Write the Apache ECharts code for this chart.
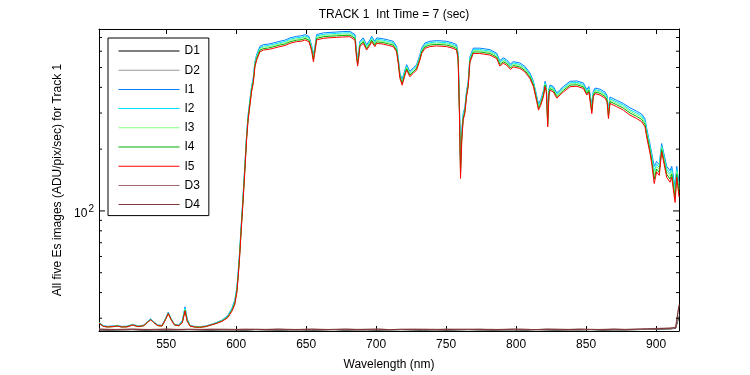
<!DOCTYPE html>
<html><head><meta charset="utf-8">
<script src="https://cdn.jsdelivr.net/npm/echarts@6/dist/echarts.min.js"></script>
<style>html,body{margin:0;padding:0;background:#fff}#c{width:750px;height:375px}</style>
</head><body><div id="c"></div>
<script>
// ---- data ----
const wavelengths = [502,505,508,512,515,518,522,526,530,534,537,539,541,544,547,549.5,551.5,553.5,556,559,561.5,563.5,565,567,570,574,578,582,586,590,594,597,599,600.5,601.5,602.5,603.5,604.5,605.5,606.5,607.5,608.5,610,611,612.2,613.4,614.6,617,619.4,623,626.5,631.3,635,638.4,643.2,647,649.1,652,654,655.2,656.5,657.5,662.3,667,671.8,676,681.3,684.9,686,686.8,687.6,688.4,690.8,693.2,695.6,696.8,699.1,700.4,705,709,712.2,714.6,715.8,717,718.6,720.6,721.8,724.1,726.5,728.9,731.3,732.5,734.9,738.4,743.2,750.4,755,757.5,758.6,759.5,760.3,761.2,762.2,763.4,764.6,765.8,767,769.4,774.1,781.3,786.1,788.4,790.8,793.2,796,797.9,802.7,806.3,809.9,812.4,814.8,816,817.6,819.5,820.7,821.6,822.6,823.5,824.3,826.6,829.1,831.4,833.8,838.6,843.4,848.1,850.5,852,854.1,855.2,856.4,860,863.6,865,866,867.1,871.9,876.6,881.4,886.2,889.8,892.1,893.3,895.7,896.9,898.7,900.4,902.3,904,905.2,907.6,910,911.2,913.6,914.8,916.4];
const I5 = [28.4,27.4,27.2,27.3,27.5,27.2,27.2,27.8,27.3,27.6,28.8,29.5,28.6,27.6,27.5,29.5,31.6,29.5,27.8,27.6,28.5,32.5,29.0,27.5,27.2,27.1,27.3,27.8,28.3,29.0,30.2,32.5,35,40,48,60,78,100,130,170,225,275,334,380,418,503,543,597,608,612,620,632,640,656,668,672,681,668,600,533,610,681,694,698,701,704,706,681,560,508,560,632,656,608,642,668,632,656,650,640,632,597,524,443,410,459,486,451,468,486,543,585,620,632,637,632,620,608,543,300,144,220,277,299,360,403,530,585,585,575,553,508,524,514,489,503,495,476,442,403,340,310,327,360,403,380,257,370,387,380,354,367,380,403,405,395,367,380,298,360,373,367,354,340,282,334,322,310,293,282,272,257,229,191,170,136,155,149,194,177,146,138,146,110,146,117];
const I4 = [28.5,27.4,27.2,27.3,27.5,27.2,27.3,27.8,27.3,27.6,28.8,29.5,28.6,27.6,27.5,29.6,31.7,29.6,27.8,27.6,28.6,32.8,29.2,27.5,27.2,27.1,27.3,27.8,28.4,29.1,30.4,32.8,35.4,40.6,48.8,61,79.3,102,132,173,229,280,340,386,425,512,552,607,618,622,631,643,651,667,679,683,693,679,610,545,620,693,706,710,713,716,718,693,572,520,570,643,667,618,653,679,643,667,661,651,643,607,533,451,417,467,494,459,476,494,552,595,631,643,648,643,631,618,554,310,152,226,282,304,366,410,539,595,595,585,562,517,533,523,497,512,503,484,450,410,346,316,333,366,410,387,264,377,394,387,360,373,387,410,412,402,373,387,306,366,380,374,361,347,289,341,329,317,300,289,279,264,236,197,176,143,160,154,199,182,151,143,151,115,151,122];
const I3 = [28.5,27.5,27.3,27.4,27.6,27.3,27.3,27.9,27.4,27.7,28.9,29.6,28.7,27.7,27.6,29.7,31.8,29.7,27.9,27.7,28.8,33.2,29.4,27.6,27.3,27.2,27.4,27.9,28.4,29.2,30.5,33.0,35.8,41.2,49.6,62,80.6,103,134,176,232,284,345,393,432,520,561,617,628,632,640,653,661,678,690,694,703,690,620,556,630,703,717,721,724,727,729,703,583,531,579,653,678,628,663,690,653,678,671,661,653,617,541,458,424,474,502,466,483,502,561,604,640,653,658,653,640,628,565,320,160,232,287,309,372,416,547,604,604,594,571,525,541,531,505,520,511,492,457,416,352,322,338,372,416,394,271,383,400,393,366,379,393,416,418,408,379,393,314,372,386,380,367,353,296,347,335,323,306,295,285,270,242,202,181,150,165,159,204,187,156,148,156,120,156,127];
const I2 = [28.6,27.5,27.3,27.4,27.6,27.3,27.4,27.9,27.4,27.7,29.0,29.7,28.8,27.7,27.6,29.8,31.9,29.8,27.9,27.7,29.0,33.6,29.6,27.6,27.3,27.2,27.4,27.9,28.5,29.3,30.7,33.3,36.2,41.8,50.2,62.7,81.5,104.5,136,178,235,287,349,397,437,526,567,624,635,640,648,660,669,686,698,702,712,698,627,565,637,712,725,729,733,736,738,712,592,540,585,660,686,635,671,698,660,686,679,669,660,624,548,463,430,480,508,471,489,508,567,611,648,660,666,660,648,635,574,330,168,238,292,314,377,421,554,611,611,601,578,531,548,537,511,526,517,497,462,421,356,327,342,377,421,400,278,388,405,397,370,384,397,421,423,413,384,397,322,377,390,385,372,358,303,352,340,328,311,300,290,275,247,206,186,157,169,163,208,191,160,152,160,125,160,131];
const I1 = [28.7,27.6,27.4,27.5,27.7,27.4,27.4,28.0,27.5,27.8,29.1,29.8,28.9,27.8,27.7,29.9,32.1,29.9,28.0,27.8,29.2,34.1,29.8,27.7,27.4,27.3,27.5,28.0,28.6,29.4,30.9,33.6,36.7,42.4,51.0,63.7,82.8,106,138,181,239,292,355,404,444,534,577,634,646,650,658,671,680,697,709,714,723,709,637,575,648,723,737,741,744,748,750,723,602,550,595,671,697,646,682,709,671,697,690,680,671,634,557,470,437,487,516,479,497,516,577,621,658,671,676,671,658,646,585,342,176,245,298,320,383,428,563,621,621,611,587,540,557,546,519,534,526,506,470,428,362,333,348,383,428,407,285,394,411,404,376,390,404,428,430,420,390,404,330,383,397,392,379,364,310,359,346,334,318,306,296,281,253,211,191,165,174,168,213,196,165,157,165,131,165,136];
const darkWavelengths = [502,510,518,526,534,542,550,558,566,574,582,590,598,606,614,622,630,638,646,654,662,670,678,686,694,702,710,718,726,734,742,750,758,766,774,782,790,798,806,814,822,830,838,846,854,862,870,878,886,894,902,910,914,916.4];
const D1 = [26.3,26.2,26.3,26.4,26.2,26.3,26.2,26.3,26.4,26.3,26.2,26.3,26.3,26.2,26.4,26.3,26.2,26.3,26.3,26.2,26.3,26.4,26.2,26.3,26.3,26.2,26.3,26.4,26.3,26.2,26.3,26.2,26.3,26.4,26.3,26.2,26.3,26.3,26.2,26.4,26.3,26.2,26.3,26.3,26.4,26.2,26.3,26.3,26.4,26.5,26.5,26.6,26.8,30.5];
const D2 = [26.4,26.3,26.3,26.4,26.3,26.4,26.3,26.3,26.4,26.4,26.3,26.3,26.4,26.3,26.4,26.3,26.3,26.4,26.3,26.3,26.4,26.4,26.3,26.3,26.4,26.3,26.3,26.4,26.4,26.3,26.3,26.3,26.4,26.4,26.3,26.3,26.4,26.3,26.3,26.4,26.4,26.3,26.3,26.4,26.4,26.3,26.3,26.4,26.4,26.5,26.6,26.6,26.9,31];
const D3 = [26.6,26.5,26.4,26.6,26.5,26.4,26.6,26.5,26.5,26.4,26.6,26.5,26.4,26.6,26.5,26.5,26.6,26.4,26.5,26.6,26.5,26.4,26.6,26.5,26.5,26.6,26.4,26.5,26.6,26.5,26.4,26.6,26.5,26.5,26.6,26.4,26.5,26.6,26.5,26.4,26.6,26.5,26.5,26.6,26.4,26.5,26.6,26.5,26.6,26.7,26.8,26.9,27.1,35];
const D4 = [26.5,26.4,26.5,26.5,26.4,26.5,26.5,26.4,26.5,26.5,26.4,26.5,26.5,26.4,26.5,26.4,26.5,26.5,26.4,26.5,26.4,26.5,26.5,26.4,26.5,26.5,26.4,26.5,26.4,26.5,26.5,26.4,26.5,26.5,26.4,26.5,26.4,26.5,26.5,26.4,26.5,26.5,26.4,26.5,26.5,26.4,26.5,26.4,26.5,26.6,26.7,26.8,27.0,34.5];
const xTicks = [550,600,650,700,750,800,850,900];
const yMajorTicks = [100];
const yMinorTicks = [30,40,50,60,70,80,90,200,300,400,500,600,700];
const xRange = [502, 916.4];
const yRange = [26, 770];
const seriesNames = ['D1','D2','I1','I2','I3','I4','I5','D3','D4'];
const seriesColors = ['#000000','#999999','#0080ff','#00e5ff','#80ff80','#00b000','#ff0000','#a06868','#803838'];

// ---- chart ----
const FONT = 'Liberation Sans, Arial, Helvetica, sans-serif';
const pairs = (xs, ys) => xs.map((x, i) => [x, ys[i]]);
const seriesData = {
  D1: pairs(darkWavelengths, D1), D2: pairs(darkWavelengths, D2),
  I1: pairs(wavelengths, I1), I2: pairs(wavelengths, I2), I3: pairs(wavelengths, I3),
  I4: pairs(wavelengths, I4), I5: pairs(wavelengths, I5),
  D3: pairs(darkWavelengths, D3), D4: pairs(darkWavelengths, D4)
};
const chart = echarts.init(document.getElementById('c'), null, {renderer: 'canvas'});
const xAxisCommon = {
  type: 'value', min: xRange[0], max: xRange[1],
  splitLine: {show: false},
  axisLine: {show: true, onZero: false, lineStyle: {color: '#000', width: 1}},
  axisTick: {show: true, inside: true, length: 5, customValues: xTicks, lineStyle: {color: '#000'}}
};
const yAxisCommon = {
  type: 'log', logBase: 10, min: yRange[0], max: yRange[1],
  splitLine: {show: false}, axisTick: {show: false}, axisLabel: {show: false},
  axisLine: {show: true, onZero: false, lineStyle: {color: '#000', width: 1}}
};
const LINE_ICON = 'path://M0,0L60,0L60,1L0,1Z';
const option = {
  animation: false,
  backgroundColor: '#fff',
  textStyle: {fontFamily: FONT},
  title: {
    text: 'TRACK 1  Int Time = 7 (sec)', left: 389, top: 4, textAlign: 'center',
    textStyle: {fontFamily: FONT, fontSize: 12, fontWeight: 'normal', color: '#000'}
  },
  grid: {left: 99, right: 71, top: 29, bottom: 44, containLabel: false, outerBoundsMode: 'none'},
  legend: {
    data: seriesNames.map((n, i) => ({name: n, icon: LINE_ICON, itemStyle: {color: seriesColors[i], opacity: 1, borderWidth: 0}})),
    orient: 'vertical', left: 108, top: 38,
    itemWidth: 61, itemHeight: 12, itemGap: 7.2,
    padding: [7, 9, 5, 10.5],
    borderColor: '#000', borderWidth: 1, backgroundColor: '#fff',
    selectedMode: false,
    textStyle: {fontFamily: FONT, fontSize: 12, color: '#000'}
  },
  xAxis: [
    Object.assign({}, xAxisCommon, {
      position: 'bottom',
      name: 'Wavelength (nm)', nameLocation: 'middle', nameGap: 28,
      nameTextStyle: {fontFamily: FONT, fontSize: 12, color: '#000'},
      axisLabel: {show: true, customValues: xTicks, margin: 8, fontFamily: FONT, fontSize: 12, color: '#000'}
    }),
    Object.assign({}, xAxisCommon, {position: 'top', axisLabel: {show: false}})
  ],
  yAxis: [
    Object.assign({}, yAxisCommon, {
      position: 'left',
      name: 'All five Es images (ADU/pix/sec) for Track 1', nameLocation: 'middle', nameGap: 35,
      nameTextStyle: {fontFamily: FONT, fontSize: 12, color: '#000'}
    }),
    Object.assign({}, yAxisCommon, {position: 'right'})
  ],
  series: seriesNames.map((n, i) => ({
    name: n, type: 'line', data: seriesData[n], xAxisIndex: 0, yAxisIndex: 0,
    symbol: 'none', showSymbol: false, smooth: false, z: 2 + i,
    lineStyle: {width: 1, color: seriesColors[i]}, itemStyle: {color: seriesColors[i]}
  }))
};
chart.setOption(option);

// y ticks (major + minor) placed through the axis scale
const x0 = chart.convertToPixel({xAxisIndex: 0}, xRange[0]);
const x1 = chart.convertToPixel({xAxisIndex: 0}, xRange[1]);
const g = [];
function tick(v, len) {
  const y = chart.convertToPixel({yAxisIndex: 0}, v);
  g.push({type: 'line', shape: {x1: x0, y1: y, x2: x0 + len, y2: y}, style: {stroke: '#000', lineWidth: 1}, z: 50, silent: true});
  g.push({type: 'line', shape: {x1: x1 - len, y1: y, x2: x1, y2: y}, style: {stroke: '#000', lineWidth: 1}, z: 50, silent: true});
}
yMinorTicks.forEach(v => tick(v, 3));
yMajorTicks.forEach(v => {
  tick(v, 6);
  const y = chart.convertToPixel({yAxisIndex: 0}, v);
  g.push({type: 'text', x: x0 - 5, y: y, silent: true, z: 50, style: {
    text: '{b|10}{s|' + Math.round(Math.log10(v)) + '}', align: 'right', verticalAlign: 'middle',
    rich: {b: {fontFamily: FONT, fontSize: 12, fill: '#000', padding: [6, 0, 0, 0]}, s: {fontFamily: FONT, fontSize: 10, fill: '#000', padding: [0, 0, 4, 1]}}
  }});
});
chart.setOption({graphic: g});
</script></body></html>
